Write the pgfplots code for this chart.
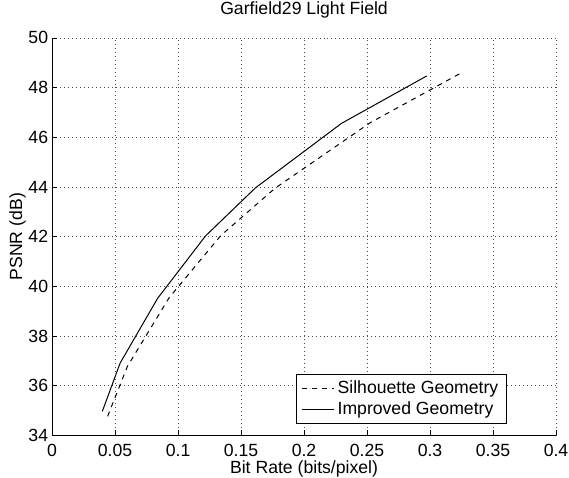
\documentclass[border=0pt]{standalone}
\usepackage{fontspec}
\setmainfont{Liberation Sans}
\usepackage{pgfplots}
\pgfplotsset{compat=1.18}

\newcommand{\fs}{\fontsize{10.6}{12.7}\selectfont}

\begin{document}
\fs
\begin{tikzpicture}
\begin{axis}[
  scale only axis, width=303pt, height=239pt,
  xmin=0, xmax=0.4, ymin=34, ymax=50,
  xtick={0,0.05,0.1,0.15,0.2,0.25,0.3,0.35,0.4},
  ytick={34,36,38,40,42,44,46,48,50},
  axis x line*=bottom, axis y line*=left,
  axis line style={-, line width=0.6pt},
  tick align=inside, major tick length=3pt,
  tick style={line width=0.5pt, black},
  grid=major, major grid style={dotted, black!70, line width=0.5pt},
  /pgf/number format/assume math mode=true,
  xticklabel style={/pgf/number format/fixed, /pgf/number format/precision=2,
    inner sep=0pt, yshift=-4.8pt},
  yticklabel style={inner xsep=2.2pt},
  tick label style={font=\fs},
  label style={font=\fs},
  title={Garfield29 Light Field},
  title style={font=\fs, inner sep=0pt, at={([yshift=11pt]axis description cs:0.5,1)}, anchor=center},
  xlabel={Bit Rate (bits/pixel)},
  ylabel={PSNR (dB)},
  xlabel style={inner sep=0pt, at={([yshift=-20.2pt]axis description cs:0.5,0)}, anchor=center},
  ylabel style={inner sep=0pt, at={([xshift=-20.7pt]axis description cs:0,0.5)}, anchor=center},
  legend cell align=left,
  legend image code/.code={\draw[#1] (0pt,0pt) -- (19pt,0pt);},
  legend style={at={(0.903,0.029)}, anchor=south east, draw=black,
    line width=0.6pt, fill=white, font=\fs,
    inner xsep=3pt, inner ysep=2pt, row sep=-1pt},
]
\addplot[black, line width=0.6pt, dash pattern=on 3pt off 3pt] coordinates {
  (0.0441,34.77) (0.0598,36.78) (0.0930,39.55) (0.1340,42.05)
  (0.1770,43.95) (0.2526,46.59) (0.3232,48.55)};
\addlegendentry{Silhouette Geometry}
\addplot[black, line width=0.6pt] coordinates {
  (0.0399,34.97) (0.0540,36.91) (0.0838,39.52) (0.1218,42.03)
  (0.1613,43.96) (0.2297,46.56) (0.2974,48.47)};
\addlegendentry{Improved Geometry}
\end{axis}
\pgfresetboundingbox
\path ([shift={(-31.3pt,-25.3pt)}]current axis.south west)
  rectangle ([shift={(7.8pt,22.8pt)}]current axis.north east);
\end{tikzpicture}
\end{document}
